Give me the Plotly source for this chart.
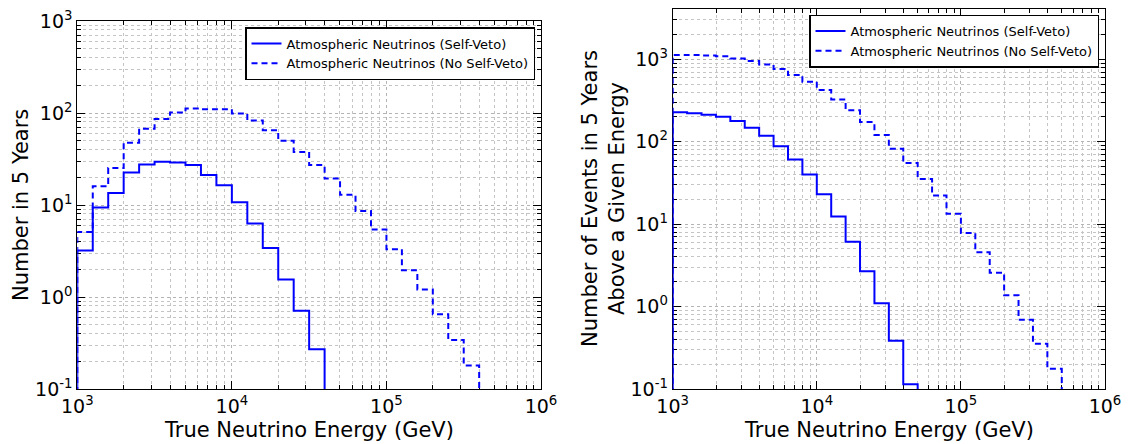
import numpy as np
import plotly.graph_objects as go

# ---- data ----
bin_edges = np.logspace(3, 6, 31)          # 10 log bins per decade, 1 TeV - 1 PeV

# left panel: events per bin in 5 years
left_selfveto = [3.2, 9.4, 13.5, 22.5, 27.5, 29.6, 28.9, 27.2, 21.2, 16.4,
                 10.7, 6.3, 3.4, 1.55, 0.71, 0.27]
left_noveto = [5.1, 16.0, 25.2, 47.6, 67.6, 86.0, 101.0, 112.0, 110.0, 109.6,
               99.0, 83.0, 65.0, 50.0, 37.7, 27.2, 19.4, 12.9, 8.6, 5.4,
               3.3, 1.95, 1.21, 0.65, 0.34, 0.18]

# right panel: events above a given energy in 5 years
right_selfveto = [227, 221, 212, 201, 178, 148, 118, 88, 61, 40,
                  23.1, 12.4, 6.1, 2.68, 1.10, 0.386, 0.114]
right_noveto = [1130, 1125, 1110, 1085, 1025, 955, 865, 760, 645, 535,
                424, 326, 240, 173, 121, 82, 55, 35.4, 22.2, 13.4,
                7.8, 4.56, 2.58, 1.37, 0.69, 0.354, 0.176]

label_sv = "Atmospheric Neutrinos (Self-Veto)"
label_nsv = "Atmospheric Neutrinos (No Self-Veto)"

x_ticks = [1e3, 1e4, 1e5, 1e6]
x_ticktext = ["10<sup>3</sup>", "10<sup>4</sup>", "10<sup>5</sup>", "10<sup>6</sup>"]
y_ticks = [1e-1, 1e0, 1e1, 1e2, 1e3]
y_ticktext = ["10<sup>-1</sup>", "10<sup>0</sup>", "10<sup>1</sup>", "10<sup>2</sup>", "10<sup>3</sup>"]

FLOOR = 1e-3  # histogram baseline, below the visible range


def step_xy(vals):
    # outline of a step histogram, like matplotlib histtype='step'
    xs, ys = [bin_edges[0]], [FLOOR]
    for i, v in enumerate(vals):
        xs += [bin_edges[i], bin_edges[i + 1]]
        ys += [v, v]
    xs.append(bin_edges[len(vals)])
    ys.append(FLOOR)
    return xs, ys


# the page body keeps its default 8px margin, so the figure sits at (8, 8)
OFF = 8
W, H = 1130 - OFF, 444 - OFF
FONT = "DejaVu Sans"
BLUE = "#0000ff"


def px(x):
    return (x - OFF) / W


def py(y):
    return 1 - (y - OFF) / H


def minor_vals(lo, hi):
    return [m * 10.0 ** e for e in range(lo, hi) for m in range(2, 10)]


def log_axis(rng, tickvals, ticktext, minors, domain, anchor):
    return dict(type="log", range=rng, domain=domain, anchor=anchor, automargin=False,
                showline=True, linecolor="black", linewidth=1, mirror="allticks",
                ticks="inside", ticklen=8, tickwidth=1, tickcolor="black",
                tickvals=tickvals, ticktext=ticktext, ticklabeloverflow="allow",
                tickfont=dict(family=FONT, size=19, color="black"),
                showgrid=True, gridcolor="#b4b4b4", griddash="dot", gridwidth=1,
                minor=dict(tickvals=minors, ticks="inside", ticklen=4, tickcolor="black",
                           showgrid=True, gridcolor="#c4c4c4", griddash="dot", gridwidth=1),
                zeroline=False, layer="below traces")


fig = go.Figure()

# ============================== left panel ==============================
x, y = step_xy(left_selfveto)
fig.add_trace(go.Scatter(x=x, y=y, mode="lines", name=label_sv, legend="legend",
                         line=dict(color=BLUE, width=2), xaxis="x", yaxis="y"))
x, y = step_xy(left_noveto)
fig.add_trace(go.Scatter(x=x, y=y, mode="lines", name=label_nsv, legend="legend",
                         line=dict(color=BLUE, width=2, dash="6px,4px"), xaxis="x", yaxis="y"))

# ============================== right panel ==============================
x, y = step_xy(right_selfveto)
fig.add_trace(go.Scatter(x=x, y=y, mode="lines", name=label_sv, legend="legend2",
                         line=dict(color=BLUE, width=2), xaxis="x2", yaxis="y2"))
x, y = step_xy(right_noveto)
fig.add_trace(go.Scatter(x=x, y=y, mode="lines", name=label_nsv, legend="legend2",
                         line=dict(color=BLUE, width=2, dash="6px,4px"), xaxis="x2", yaxis="y2"))

# plot-area boxes in window pixels
L = dict(x0=77.3, x1=541, y0=21, y1=389)
R = dict(x0=672.7, x1=1105, y0=9, y1=389)


def dom_x(b):
    return [px(b["x0"]), px(b["x1"])]


def dom_y(b):
    return [py(b["y1"]), py(b["y0"])]


xminor = minor_vals(3, 6)
fig.update_layout(
    xaxis=log_axis([3, 6], x_ticks, x_ticktext, xminor, dom_x(L), "y"),
    yaxis=log_axis([-1, 3], y_ticks, y_ticktext, minor_vals(-1, 3), dom_y(L), "x"),
    xaxis2=log_axis([3, 6], x_ticks, x_ticktext, xminor, dom_x(R), "y2"),
    yaxis2=log_axis([-1, 3.61], y_ticks, y_ticktext, minor_vals(-1, 4), dom_y(R), "x2"),
)

legend_style = dict(bgcolor="white", bordercolor="black", borderwidth=1.5,
                    font=dict(family=FONT, size=13, color="black"),
                    xref="paper", yref="paper", xanchor="right", yanchor="top",
                    itemwidth=30, tracegroupgap=0)
fig.update_layout(
    legend=dict(x=px(535), y=py(27), **legend_style),
    legend2=dict(x=px(1099), y=py(14.5), **legend_style),
)

title_font = dict(family=FONT, size=21, color="black")
for b in (L, R):
    fig.add_annotation(text="True Neutrino Energy (GeV)", x=px((b["x0"] + b["x1"]) / 2), y=py(430),
                       xref="paper", yref="paper", showarrow=False, font=title_font,
                       xanchor="center", yanchor="middle")
fig.add_annotation(text="Number in 5 Years", x=px(21), y=py((L["y0"] + L["y1"]) / 2),
                   xref="paper", yref="paper", showarrow=False, font=title_font, textangle=-90,
                   xanchor="center", yanchor="middle")
fig.add_annotation(text="Number of Events in 5 Years<br>Above a Given Energy", x=px(603),
                   y=py((R["y0"] + R["y1"]) / 2),
                   xref="paper", yref="paper", showarrow=False, font=title_font, textangle=-90,
                   xanchor="center", yanchor="middle")

fig.update_layout(width=W, height=H, margin=dict(l=0, r=0, t=0, b=0),
                  paper_bgcolor="white", plot_bgcolor="white", showlegend=True)

fig.write_html("out.html")
